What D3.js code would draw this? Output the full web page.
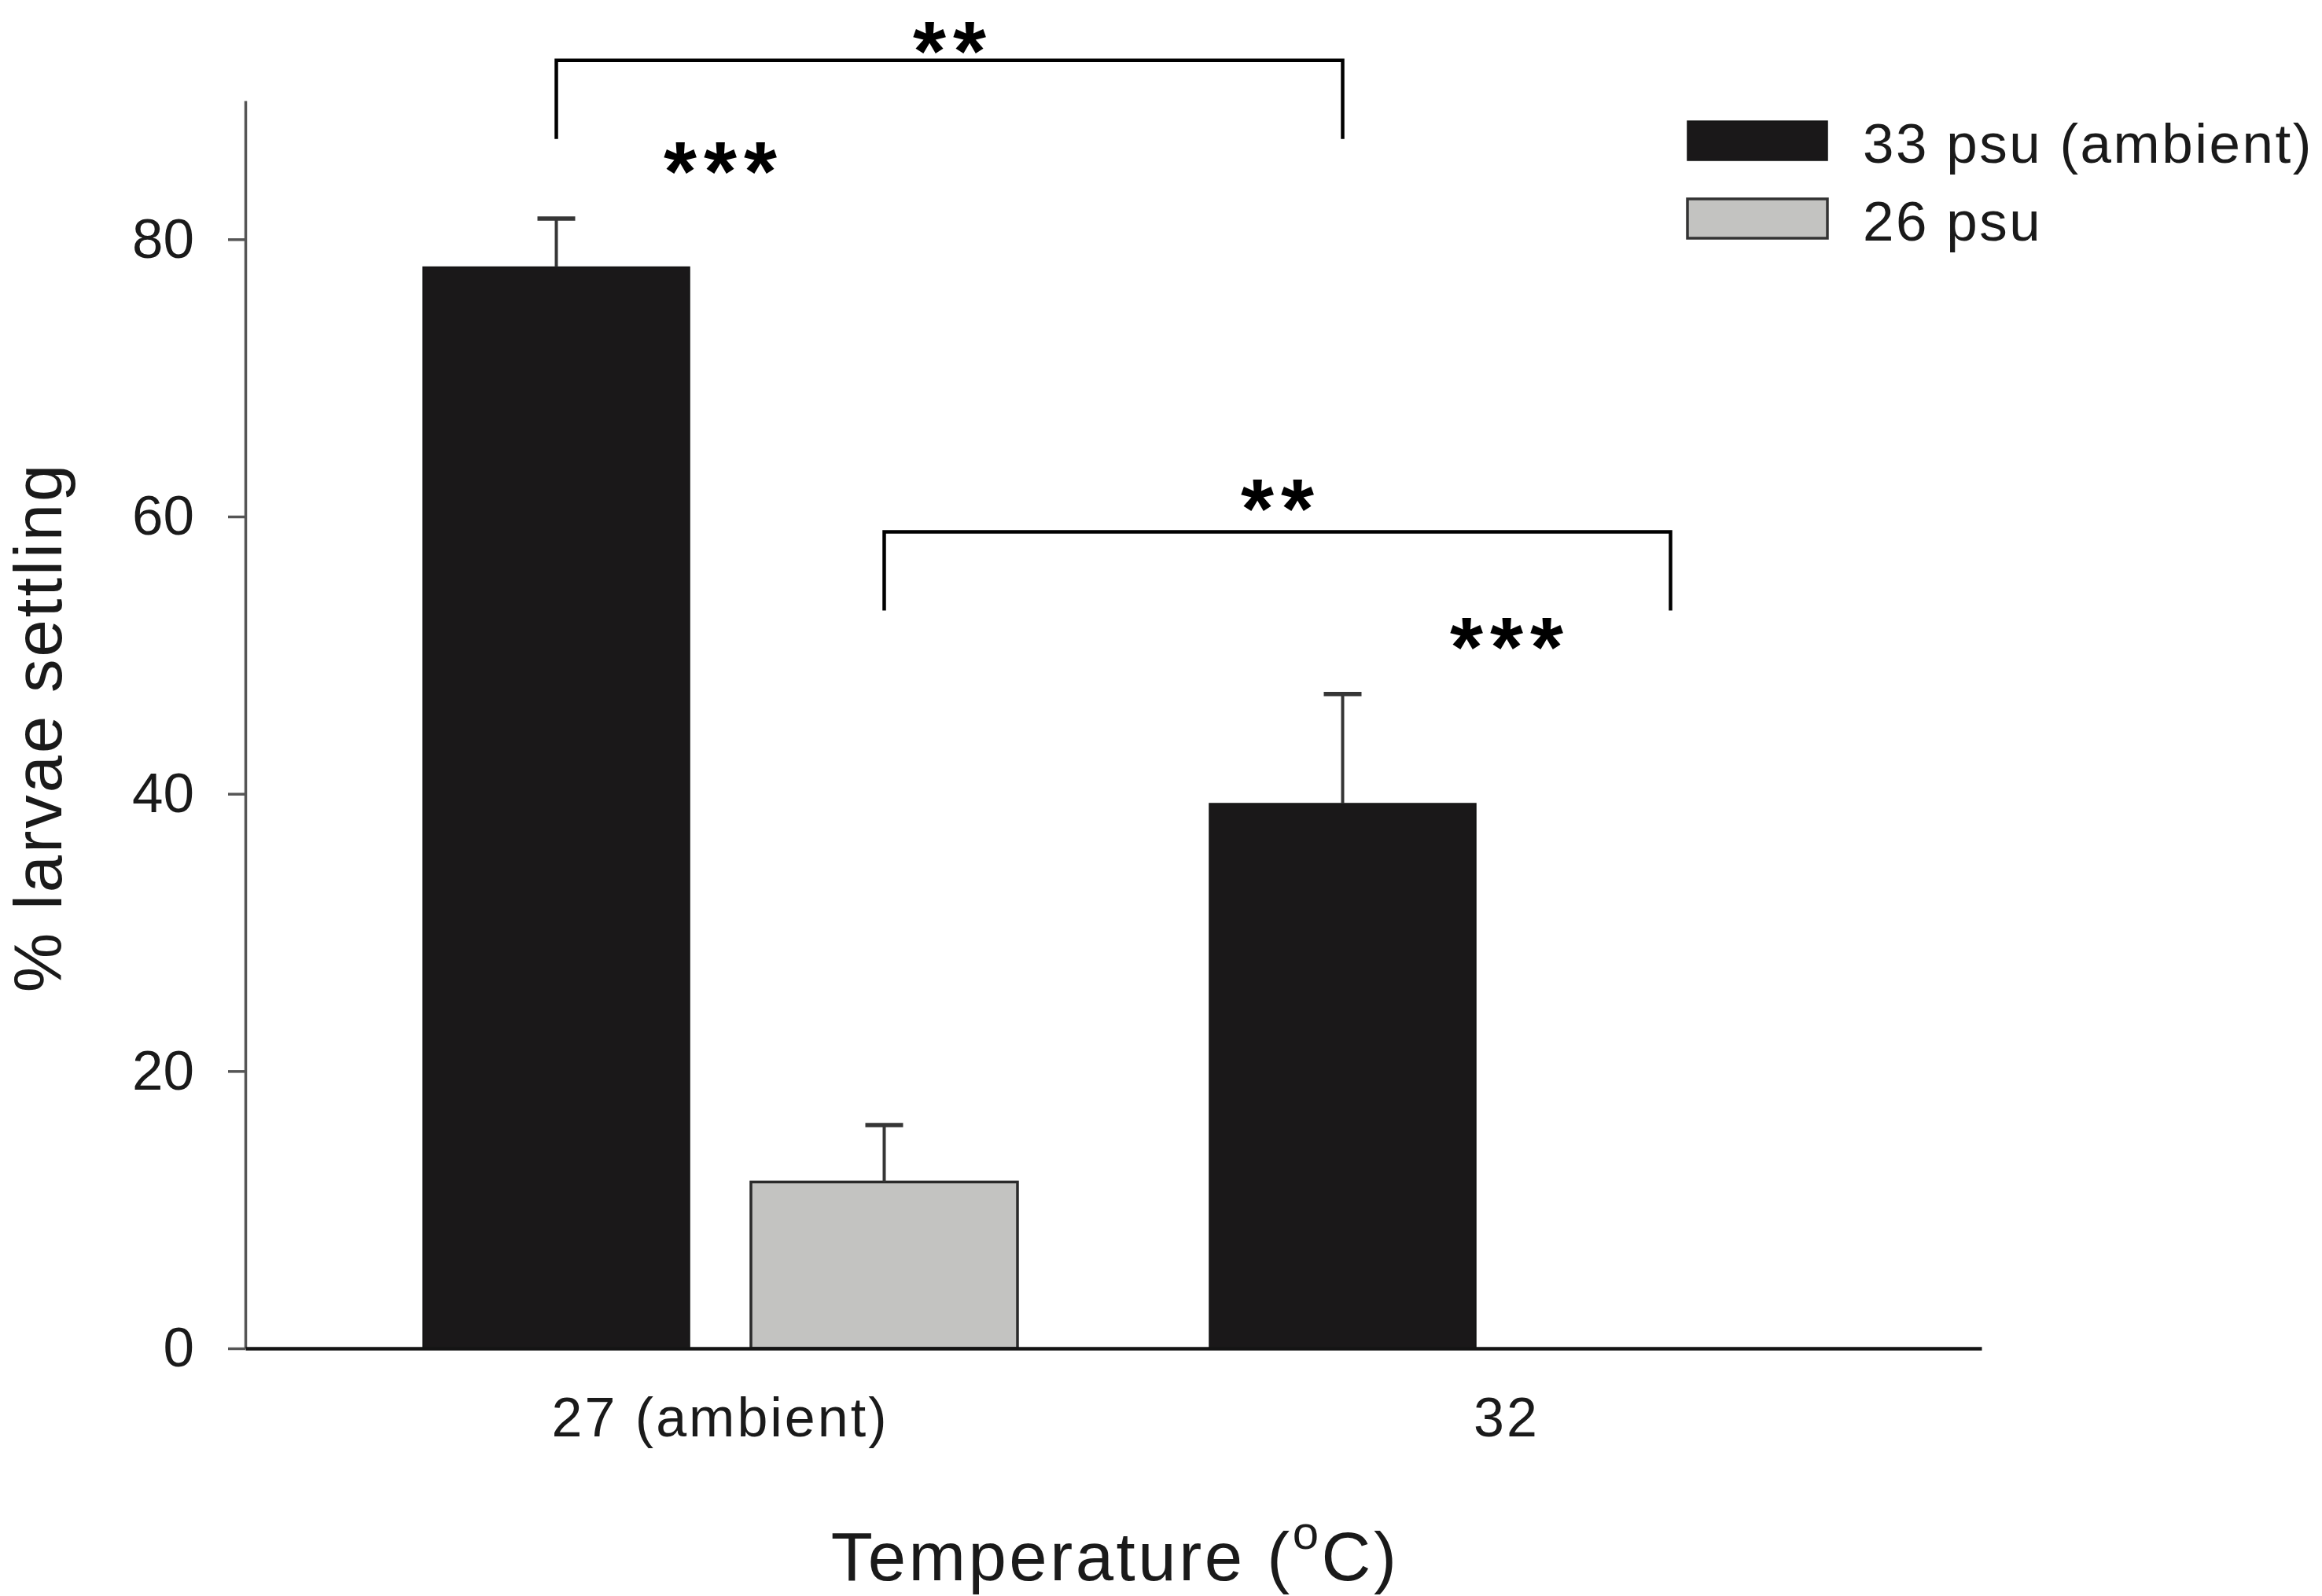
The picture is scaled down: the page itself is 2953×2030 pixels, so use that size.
<!DOCTYPE html>
<html>
<head>
<meta charset="utf-8">
<script src="https://cdn.jsdelivr.net/npm/d3@7"></script>
<style>
  html, body { margin: 0; padding: 0; background: #fff; }
  svg { display: block; font-family: "Liberation Sans", Arial, sans-serif; }
</style>
</head>
<body>
<div id="chart"></div>
<script>
// values
const categories = ['27 (ambient)', '32'];
const series = ['33 psu (ambient)', '26 psu'];
const mean33 = [78.0, 39.3];
const mean26 = [12.0, 0];
const upper33 = [81.5, 47.2];   // mean + SE
const upper26 = [16.1, 0];
const yTicks = [0, 20, 40, 60, 80];
const groupStars = ['***', '***'];
// significance brackets between bars (same salinity, different temperature)
const brackets = [
  { from: ['27 (ambient)', '33 psu (ambient)'], to: ['32', '33 psu (ambient)'], level: 92.9, label: '**' },
  { from: ['27 (ambient)', '26 psu'], to: ['32', '26 psu'], level: 58.9, label: '**' }
];

const W = 2953, H = 2030;
const colors = { '33 psu (ambient)': '#1a1819', '26 psu': '#c3c3c1' };

const rows = [];
categories.forEach((c, i) => {
  rows.push({ cat: c, ser: series[0], value: mean33[i], upper: upper33[i] });
  rows.push({ cat: c, ser: series[1], value: mean26[i], upper: upper26[i] });
});

const svg = d3.select('#chart').append('svg')
  .attr('width', W).attr('height', H)
  .attr('viewBox', `0 0 ${W} ${H}`);

const y = d3.scaleLinear().domain([0, 90]).range([1715, 128]);
const x0 = d3.scaleBand().domain(categories).range([312, 2520])
  .paddingInner(0.244).paddingOuter(0.226);
const x1 = d3.scaleBand().domain(series).range([0, x0.bandwidth()]).paddingInner(0.187);

const barX = d => x0(d.cat) + x1(d.ser);
const barMid = (cat, ser) => x0(cat) + x1(ser) + x1.bandwidth() / 2;

// Bars
svg.append('g').selectAll('rect')
  .data(rows)
  .join('rect')
  .attr('x', barX)
  .attr('y', d => y(d.value))
  .attr('width', x1.bandwidth())
  .attr('height', d => y(0) - y(d.value))
  .attr('fill', d => colors[d.ser])
  .attr('stroke', d => d.ser === series[1] ? '#2a2a2a' : '#141414')
  .attr('stroke-width', d => d.ser === series[1] ? 3.5 : 1.5);

// Error bars (upper only)
const eb = svg.append('g').selectAll('g')
  .data(rows.filter(d => d.upper > d.value))
  .join('g')
  .attr('stroke', '#363636');
eb.append('line')
  .attr('x1', d => barMid(d.cat, d.ser)).attr('x2', d => barMid(d.cat, d.ser))
  .attr('y1', d => y(d.value)).attr('y2', d => y(d.upper))
  .attr('stroke-width', 4);
eb.append('line')
  .attr('x1', d => barMid(d.cat, d.ser) - 24).attr('x2', d => barMid(d.cat, d.ser) + 24)
  .attr('y1', d => y(d.upper)).attr('y2', d => y(d.upper))
  .attr('stroke-width', 5.5);

// Y axis
svg.append('g')
  .attr('transform', 'translate(312,0)')
  .call(d3.axisLeft(y).tickValues(yTicks).tickSize(22).tickPadding(43).tickSizeOuter(0))
  .call(ax => ax.select('.domain').attr('stroke', '#555').attr('stroke-width', 3.5))
  .call(ax => ax.selectAll('.tick line').attr('stroke', '#555').attr('stroke-width', 3.5))
  .call(ax => ax.selectAll('text')
    .attr('font-size', '71px')
    .attr('font-family', '"Liberation Sans", Arial, sans-serif')
    .attr('fill', '#1a1a1a'));

// X axis
svg.append('g')
  .attr('transform', `translate(0,${y(0)})`)
  .call(d3.axisBottom(x0).tickSize(0).tickPadding(62).tickSizeOuter(0))
  .call(ax => ax.select('.domain').attr('stroke', '#141414').attr('stroke-width', 4.5))
  .call(ax => ax.selectAll('text')
    .attr('font-size', '70px')
    .attr('letter-spacing', '3px')
    .attr('font-family', '"Liberation Sans", Arial, sans-serif')
    .attr('fill', '#1a1a1a'));

// Axis titles
svg.append('text')
  .attr('transform', 'translate(78,925) rotate(-90)')
  .attr('text-anchor', 'middle')
  .attr('font-size', '85px')
  .attr('letter-spacing', '3px')
  .attr('fill', '#1a1a1a')
  .text('% larvae settling');

const xt = svg.append('text')
  .attr('x', 1418).attr('y', 2010)
  .attr('text-anchor', 'middle')
  .attr('font-size', '87px')
  .attr('letter-spacing', '3.5px')
  .attr('fill', '#1a1a1a');
xt.append('tspan').text('Temperature (');
xt.append('tspan').attr('font-size', '60px').attr('dy', '-40').text('o');
xt.append('tspan').attr('dy', '40').text('C)');

// Legend
const lg = svg.append('g').attr('transform', 'translate(2146,154)');
const li = lg.selectAll('g').data(series).join('g')
  .attr('transform', (d, i) => `translate(0,${i * 99})`);
li.append('rect')
  .attr('width', 178).attr('height', 50)
  .attr('fill', d => colors[d])
  .attr('stroke', d => d === series[1] ? '#333' : '#141414')
  .attr('stroke-width', d => d === series[1] ? 3.5 : 1.5);
li.append('text')
  .attr('x', 223).attr('y', 53)
  .attr('font-size', '71px')
  .attr('letter-spacing', '2.5px')
  .attr('fill', '#1a1a1a')
  .text(d => d);

// Significance stars above each temperature group
const starFont = 108, starGap = 9;
const groupTop = categories.map((c, i) => y(Math.max(upper33[i], upper26[i])));
svg.append('g').selectAll('text')
  .data(categories)
  .join('text')
  .attr('x', d => x0(d) + x0.bandwidth() / 2 + starGap / 2)
  .attr('y', (d, i) => groupTop[i] - 100 + starFont * 0.716)
  .attr('text-anchor', 'middle')
  .attr('font-size', starFont + 'px')
  .attr('font-weight', 'bold')
  .attr('letter-spacing', starGap + 'px')
  .attr('fill', '#000')
  .text((d, i) => groupStars[i]);

// Brackets
const legLen = 100;
const bg = svg.append('g').selectAll('g').data(brackets).join('g');
bg.append('path')
  .attr('fill', 'none')
  .attr('stroke', '#000')
  .attr('stroke-width', 4.5)
  .attr('d', d => {
    const xa = barMid(...d.from), xb = barMid(...d.to), yl = y(d.level);
    return `M${xa},${yl + legLen}V${yl}H${xb}V${yl + legLen}`;
  });
bg.append('text')
  .attr('x', d => (barMid(...d.from) + barMid(...d.to)) / 2 + starGap / 2)
  .attr('y', d => Math.max(y(d.level) - 70, 25) + starFont * 0.716)
  .attr('text-anchor', 'middle')
  .attr('font-size', starFont + 'px')
  .attr('font-weight', 'bold')
  .attr('letter-spacing', starGap + 'px')
  .attr('fill', '#000')
  .text(d => d.label);
</script>
</body>
</html>
